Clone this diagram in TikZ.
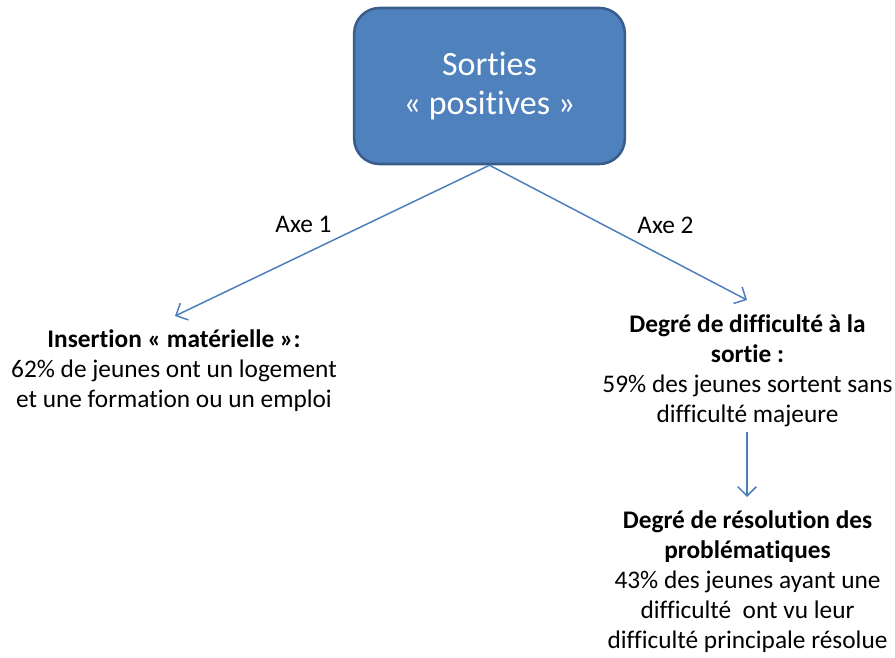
\documentclass[tikz,border=0pt]{standalone}
\usepackage{fontspec}
\setmainfont{Carlito}[Ligatures={NoCommon}]
\usetikzlibrary{arrows.meta}
\definecolor{boxfill}{HTML}{4F81BD}
\definecolor{boxline}{HTML}{385D8A}
\definecolor{arrowcol}{HTML}{4A7EBB}
\tikzset{
  mainbox/.style={draw=boxline, line width=1.9pt, fill=boxfill, rounded corners=19pt,
    minimum width=203pt, minimum height=117pt, text=white, align=center,
    font=\fontsize{25.5}{29}\selectfont},
  txt/.style={align=center, inner sep=0pt, font=\fontsize{19}{22.5}\selectfont},
  lbl/.style={inner sep=0pt, font=\fontsize{19}{22}\selectfont},
  conn/.style={draw=arrowcol, line width=1.1pt, -{Straight Barb[length=7pt,width=14pt,line width=1.1pt]}}
}
\begin{document}
\begin{tikzpicture}[x=0.75pt,y=-0.75pt]
\useasboundingbox (0,0) rectangle (895,657);
\node[mainbox] (top) at (489.5,86) {Sorties\\« positives »};
\node[txt, anchor=base] (ins) at (174,407) {\textbf{Insertion « matérielle »:}\\62\% de jeunes ont un logement\\et une formation ou un emploi};
\node[txt, anchor=base] (deg) at (747.5,422) {\textbf{Degré de difficulté à la}\\\textbf{sortie :}\\59\% des jeunes sortent sans\\difficulté majeure};
\node[txt, anchor=base] (res) at (747.5,648) {\textbf{Degré de résolution des}\\\textbf{problématiques}\\43\% des jeunes ayant une\\difficulté~ ont vu leur\\difficulté principale résolue};
\coordinate (le) at (175,316);
\coordinate (re) at (747,300);
\draw[conn] (top.south) -- (le);
\draw[conn] (top.south) -- (re);
\coordinate (vs) at (747,432);
\coordinate (ve) at (747,497);
\draw[conn] (vs) -- (ve);
\node[lbl, anchor=base] (a1) at (303.5,232) {Axe 1};
\node[lbl, anchor=base] (a2) at (665.5,233) {Axe 2};
\end{tikzpicture}
\end{document}
